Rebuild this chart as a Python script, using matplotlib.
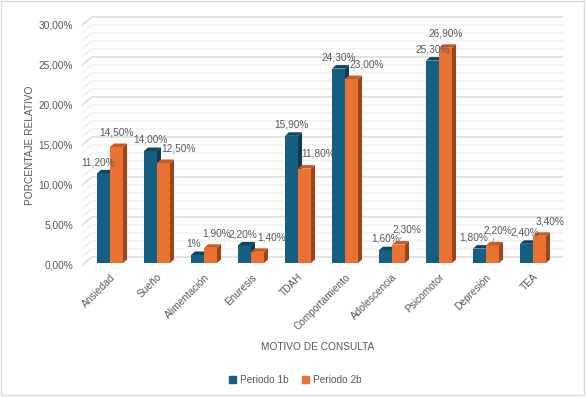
import matplotlib.pyplot as plt
from matplotlib.patches import Polygon, Rectangle, Patch

categorias = ["Ansiedad", "Sueño", "Alimentación", "Enuresis", "TDAH",
              "Comportamiento", "Adolescencia", "Psicomotor", "Depresión", "TEA"]
periodo_1b = [11.2, 14.0, 1.0, 2.2, 15.9, 24.3, 1.6, 25.3, 1.8, 2.4]
periodo_2b = [14.5, 12.5, 1.9, 1.4, 11.8, 23.0, 2.3, 26.9, 2.2, 3.4]
etiquetas_1b = ["11,20%", "14,00%", "1%", "2,20%", "15,90%", "24,30%", "1,60%", "25,30%", "1,80%", "2,40%"]
etiquetas_2b = ["14,50%", "12,50%", "1,90%", "1,40%", "11,80%", "23,00%", "2,30%", "26,90%", "2,20%", "3,40%"]
yticks = [0, 5, 10, 15, 20, 25, 30]

# horizontal nudges of the data labels (px), as Excel placed them
nudge_1b = [-5, 0, -4, -2, 0, 0, 0, 0, -6, -2]
nudge_2b = [0, 15, 6, 14, 14, 15, 8, 0, 5, 10]
leader_2b = {6, 8}

TXT = "#595959"
FONT = "Liberation Sans"
plt.rcParams["font.family"] = FONT

W, H = 586, 397
fig = plt.figure(figsize=(W / 100, H / 100), dpi=100)
PXX, PXY = 47.0, 8.0  # pixels per data unit
ax = fig.add_axes([82 / W, (H - 265) / H, 481 / W, 249 / H])
xmin, xmax = -28 / PXX, 453 / PXX
ax.set_xlim(xmin, xmax)
ax.set_ylim(0, 249 / PXY)
for s in ax.spines.values():
    s.set_visible(False)

# back wall gridlines (3D look)
dxw, dyw = 10 / PXX, 8 / PXY
for v in range(0, 31):
    major = v % 5 == 0
    c = "#D6D6D6" if major else "#EEEEEE"
    lw = 1.0 if major else 0.8
    ax.plot([xmin, xmin + dxw, xmax], [v, v + dyw, v + dyw], color=c, lw=lw, zorder=1,
            solid_capstyle="butt")

# 3D bars
w = 13 / PXX
ddx, ddy = 4 / PXX, 3.5 / PXY
base = 0.25


def bar3d(x0, val, front, top, side, z):
    t = base + val
    ax.bar(x0, val, w, bottom=base, align="edge", color=front, zorder=z)
    ax.add_patch(Polygon([(x0 + w, base), (x0 + w + ddx, base + ddy), (x0 + w + ddx, t + ddy), (x0 + w, t)],
                         closed=True, fc=side, ec="none", zorder=z))
    ax.add_patch(Polygon([(x0, t), (x0 + w, t), (x0 + w + ddx, t + ddy), (x0 + ddx, t + ddy)],
                         closed=True, fc=top, ec="none", zorder=z))


for i in range(len(categorias)):
    bar3d(i - w, periodo_1b[i], "#156082", "#0E4560", "#0C3B52", 3)
    bar3d(i, periodo_2b[i], "#E97132", "#C85A22", "#9E4418", 4)

lbl = dict(fontsize=7.3, color=TXT, ha="center", va="bottom", zorder=6)
for i in range(len(categorias)):
    ax.annotate(etiquetas_1b[i], (i - w / 2, base + periodo_1b[i]), xytext=(nudge_1b[i] * 0.72, 4.5),
                textcoords="offset points", **lbl)
    ap = None
    if i in leader_2b:
        ap = dict(arrowstyle="-", color="#A6A6A6", lw=0.8, shrinkA=0, shrinkB=0)
    ax.annotate(etiquetas_2b[i], (i + w / 2, base + periodo_2b[i] + ddy), xytext=(nudge_2b[i] * 0.72, 4.5),
                textcoords="offset points", arrowprops=ap, **lbl)

ax.set_yticks(yticks)
ax.set_yticklabels([f"{v},00%" for v in yticks], fontsize=7.3, color=TXT)
ax.set_xticks(range(len(categorias)))
ax.set_xticklabels(categorias, rotation=45, ha="right", va="top", rotation_mode="anchor",
                   fontsize=7.3, color=TXT)
ax.tick_params(axis="y", length=0, pad=6.5)
ax.tick_params(axis="x", length=0, pad=5)

fig.text(30 / W, 1 - 145 / H, "PORCENTAJE RELATIVO", rotation=90, ha="center", va="center",
         fontsize=7.3, color=TXT)
fig.text(318 / W, 1 - 347 / H, "MOTIVO DE CONSULTA", ha="center", va="center", fontsize=7.3, color=TXT)

handles = [Patch(color="#156082", label="Periodo 1b"), Patch(color="#E97132", label="Periodo 2b")]
leg = fig.legend(handles=handles, loc="center", bbox_to_anchor=(295 / W, 1 - 380 / H), ncol=2,
                 frameon=False, fontsize=7.3, handlelength=0.7, handleheight=0.7, handletextpad=0.4,
                 columnspacing=1.3)
for t in leg.get_texts():
    t.set_color(TXT)

fig.add_artist(Rectangle((1 / W, 2 / H), 583 / W, 394 / H, transform=fig.transFigure, fill=False,
                         ec="#D9D9D9", lw=1))

fig.savefig("out.png", dpi=100)
